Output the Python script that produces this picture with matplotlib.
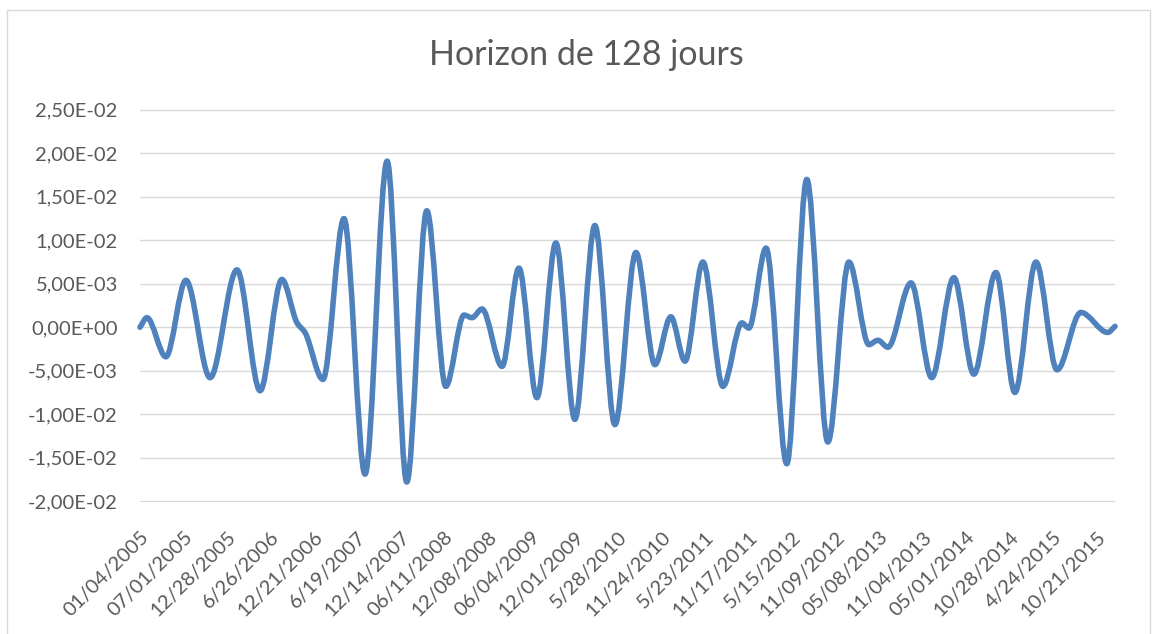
import matplotlib
matplotlib.use("Agg")
import matplotlib.pyplot as plt
import numpy as np
from matplotlib.path import Path
from matplotlib.patches import PathPatch, Rectangle
from matplotlib.ticker import FuncFormatter

plt.rcParams['font.family'] = ['Lato', 'DejaVu Sans']

title = "Horizon de 128 jours"

date_labels = ["01/04/2005", "07/01/2005", "12/28/2005", "6/26/2006", "12/21/2006",
               "6/19/2007", "12/14/2007", "06/11/2008", "12/08/2008", "06/04/2009",
               "12/01/2009", "5/28/2010", "11/24/2010", "5/23/2011", "11/17/2011",
               "5/15/2012", "11/09/2012", "05/08/2013", "11/04/2013", "05/01/2014",
               "10/28/2014", "4/24/2015", "10/21/2015"]
label_step = 126  # observations between two date labels
n_obs = 2826

obs_idx = [0, 20, 75, 133, 203, 281, 348, 411, 455, 478, 530, 591, 652, 716, 773,
           831, 886, 939, 962, 991, 1049, 1098, 1150, 1205, 1260, 1318, 1376, 1437,
           1492, 1538, 1579, 1631, 1689, 1744, 1764, 1814, 1874, 1932, 1993, 2054,
           2112, 2138, 2167, 2234, 2294, 2358, 2416, 2480, 2535, 2596, 2657, 2726,
           2804, 2825]
values_e3 = [0.0, 1.1, -3.4, 5.4, -5.8, 6.6, -7.3, 5.5, 0.5, -0.6, -6.0, 12.5, -16.9,
             19.1, -17.8, 13.4, -6.8, 1.4, 1.1, 2.1, -4.5, 6.8, -8.1, 9.7, -10.6, 11.7,
             -11.2, 8.6, -4.3, 1.2, -3.9, 7.5, -6.8, 0.5, -0.1, 9.1, -15.7, 17.0, -13.2,
             7.5, -2.0, -1.5, -2.3, 5.1, -5.8, 5.7, -5.4, 6.3, -7.5, 7.5, -4.9, 1.7,
             -0.6, 0.1]

y_ticks = [-0.02, -0.015, -0.01, -0.005, 0.0, 0.005, 0.01, 0.015, 0.02, 0.025]

x = np.array(obs_idx, dtype=float)
y = np.array(values_e3) * 1e-3

# smoothed line like Excel: cubic bezier through the points, flat at turning points
d = np.diff(y) / np.diff(x)
m = np.zeros_like(y)
m[0] = d[0]
m[-1] = d[-1]
for i in range(1, len(y) - 1):
    if d[i - 1] * d[i] > 0:
        m[i] = 2.0 / (1.0 / d[i - 1] + 1.0 / d[i])

verts = [(x[0], y[0])]
codes = [Path.MOVETO]
for i in range(len(x) - 1):
    h = (x[i + 1] - x[i]) / 3.0
    verts += [(x[i] + h, y[i] + m[i] * h),
              (x[i + 1] - h, y[i + 1] - m[i + 1] * h),
              (x[i + 1], y[i + 1])]
    codes += [Path.CURVE4] * 3

fig = plt.figure(figsize=(11.6, 6.34), dpi=100)
ax = fig.add_axes([140 / 1160, 1 - 502 / 634, 975 / 1160, 393 / 634])

line = PathPatch(Path(verts, codes), fill=False, edgecolor='#4F81BD', lw=4.0,
                 capstyle='round', joinstyle='round', clip_on=False, zorder=3)
ax.add_patch(line)

ax.set_xlim(0, n_obs - 1)
ax.set_ylim(-0.0201, 0.0251)
ax.set_yticks(y_ticks)
ax.yaxis.set_major_formatter(FuncFormatter(lambda v, p: "{:.2E}".format(round(v, 6) + 0.0).replace('.', ',')))
ax.set_xticks(np.arange(len(date_labels)) * label_step)
ax.set_xticklabels(date_labels, rotation=45, ha='right', va='top', rotation_mode='anchor')

ax.grid(axis='y', color='#D9D9D9', lw=1.0)
ax.set_axisbelow(True)
for s in ax.spines.values():
    s.set_visible(False)
ax.tick_params(length=0, labelsize=14.5, colors='#595959')
ax.tick_params(axis='y', pad=16)
ax.tick_params(axis='x', pad=19)

fig.text(586 / 1160, 1 - 55 / 634, title, ha='center', va='center', fontsize=24.5, color='#595959')

fig.patches.append(Rectangle((7 / 1160, -0.01), 1143 / 1160, 1.0 - 10 / 634 + 0.01,
                             transform=fig.transFigure, fill=False, edgecolor='#D9D9D9', lw=1.0))

fig.savefig("out.png", dpi=100)
